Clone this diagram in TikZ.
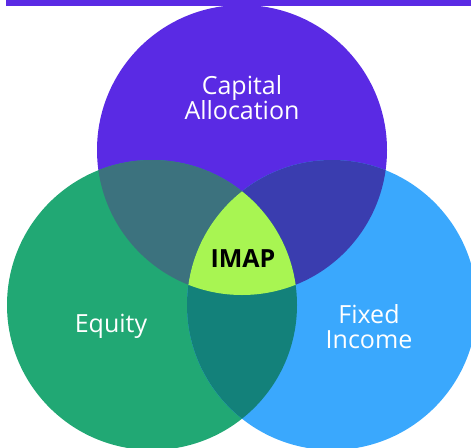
\documentclass[tikz,border=0pt]{standalone}
\usepackage{fontspec}
\setmainfont{Open Sans}
\definecolor{capcol}{HTML}{5A2AE4}
\definecolor{eqcol}{HTML}{21A874}
\definecolor{ficol}{HTML}{3AA8FD}
\definecolor{capeq}{HTML}{3C727E}
\definecolor{capfi}{HTML}{3A3DAF}
\definecolor{eqfi}{HTML}{13817A}
\definecolor{imapcol}{HTML}{A8F552}
\begin{document}
\begin{tikzpicture}[x=1pt,y=-1pt,font=\fontsize{25}{25}\selectfont,
  label/.style={text=white,align=center,inner sep=0pt}]
\def\r{145}
\useasboundingbox (0,0) rectangle (471,447);
\clip (0,0) rectangle (471,447);
\coordinate (cap) at (242,150);
\coordinate (eq) at (152,305);
\coordinate (fi) at (332,305);
% top bar
\fill[capcol] (6,0) rectangle (471,6);
% circles
\fill[capcol] (cap) circle (\r);
\fill[eqcol] (eq) circle (\r);
\fill[ficol] (fi) circle (\r);
% overlaps
\begin{scope}
\clip (cap) circle (\r);
\fill[capeq] (eq) circle (\r);
\end{scope}
\begin{scope}
\clip (cap) circle (\r);
\fill[capfi] (fi) circle (\r);
\end{scope}
\begin{scope}
\clip (eq) circle (\r);
\fill[eqfi] (fi) circle (\r);
\end{scope}
\begin{scope}
\clip (cap) circle (\r);
\clip (eq) circle (\r);
\fill[imapcol] (fi) circle (\r);
\end{scope}
% labels
\node[label] (caplbl) at (242,98) {Capital\\Allocation};
\node[label] (eqlbl) at (111,326) {Equity};
\node[label] (filbl) at (369,327) {Fixed\\Income};
\node[inner sep=0pt,font=\fontsize{25}{25}\selectfont\bfseries] (imap) at (243,259) {IMAP};
\end{tikzpicture}
\end{document}
